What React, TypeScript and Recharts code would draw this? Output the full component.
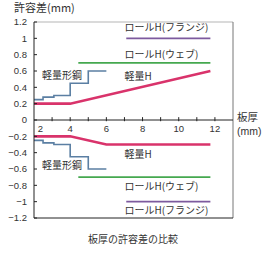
import { LineChart, Line, XAxis, YAxis, ReferenceLine, ReferenceDot } from 'recharts'

// y ticks (mm), x ticks (板厚 mm)
const yTicks = [1.2, 1, 0.8, 0.6, 0.4, 0.2, 0, -0.2, -0.4, -0.6, -0.8, -1, -1.2]
const xMinorTicks = [3, 4, 5, 6, 7, 8, 9, 10, 11, 12]
const xLabelTicks = [2, 4, 6, 8, 10, 12]

// 軽量H
const lightHUpper = [
  { x: 2, y: 0.2 },
  { x: 4, y: 0.2 },
  { x: 11.75, y: 0.6 },
]
const lightHLower = [
  { x: 2, y: -0.2 },
  { x: 4, y: -0.2 },
  { x: 6, y: -0.3 },
  { x: 11.75, y: -0.3 },
]
// 軽量形鋼 (step)
const formedUpper = [
  { x: 2, y: 0.25 },
  { x: 2.5, y: 0.28 },
  { x: 3.1, y: 0.3 },
  { x: 4, y: 0.45 },
  { x: 5, y: 0.6 },
  { x: 6, y: 0.6 },
]
const formedLower = [
  { x: 2, y: -0.25 },
  { x: 2.5, y: -0.28 },
  { x: 3.1, y: -0.3 },
  { x: 4, y: -0.45 },
  { x: 5, y: -0.6 },
  { x: 6, y: -0.6 },
]
// ロールH(ウェブ)
const webUpper = [
  { x: 4.45, y: 0.7 },
  { x: 11.75, y: 0.7 },
]
const webLower = [
  { x: 4.45, y: -0.7 },
  { x: 11.75, y: -0.7 },
]
// ロールH(フランジ)
const flangeUpper = [
  { x: 7.1, y: 1 },
  { x: 11.75, y: 1 },
]
const flangeLower = [
  { x: 7.1, y: -1 },
  { x: 11.75, y: -1 },
]

const notes = [
  { text: 'ロールH(フランジ)', x: 7, y: 1.14 },
  { text: 'ロールH(ウェブ)', x: 7, y: 0.82 },
  { text: '軽量H', x: 7, y: 0.545 },
  { text: '軽量形鋼', x: 2.44, y: 0.56 },
  { text: '軽量形鋼', x: 2.44, y: -0.54 },
  { text: '軽量H', x: 7, y: -0.41 },
  { text: 'ロールH(ウェブ)', x: 7, y: -0.8 },
  { text: 'ロールH(フランジ)', x: 7, y: -1.09 },
]

const RED = '#d9336b'
const BLUE = '#5b7fa3'
const GREEN = '#45a84f'
const PURPLE = '#7d5a9e'
const INK = '#333'
const JP = '"Noto Sans CJK JP", sans-serif'
const NUM = '"Liberation Sans", Arial, sans-serif'

const fmt = (v: number) => {
  const r = Number(v.toFixed(1))
  return r < 0 ? '\u2212' + Math.abs(r) : String(r)
}

const textLabel =
  (text: string, dx: number, dy: number, anchor: 'start' | 'middle' | 'end', family: string, size: number) =>
  (props: any) => {
    const vb = props.viewBox || {}
    return (
      <text
        x={vb.x + dx}
        y={vb.y + dy}
        textAnchor={anchor}
        dominantBaseline="central"
        fontFamily={family}
        fontSize={size}
        fill={INK}
      >
        {text}
      </text>
    )
  }

const abs = (left: number, top: number, size: number, extra: any = {}) => ({
  position: 'absolute' as const,
  left,
  top,
  fontSize: size,
  lineHeight: `${size + 3}px`,
  fontFamily: JP,
  color: INK,
  whiteSpace: 'nowrap' as const,
  ...extra,
})

export default function App() {
  return (
    <div style={{ position: 'absolute', left: 0, top: 0, width: 266, height: 259, background: '#fff' }}>
      <LineChart width={266} height={259} margin={{ top: 22, right: 33, bottom: 41, left: 0 }}>
        <XAxis type="number" dataKey="x" domain={[2, 13]} hide allowDuplicatedCategory={false} />
        <YAxis
          type="number"
          domain={[-1.2, 1.2]}
          ticks={yTicks}
          interval={0}
          width={34}
          tickSize={-3}
          tickMargin={10}
          tickFormatter={fmt}
          axisLine={{ stroke: '#222' }}
          tickLine={{ stroke: '#222' }}
          tick={{ fill: INK, fontSize: 9.5, fontFamily: NUM }}
        />
        {/* frame */}
        <ReferenceLine y={1.2} stroke="#b5b5b5" />
        <ReferenceLine x={13} stroke="#777" />
        <ReferenceLine y={-1.2} stroke="#222" />
        {/* zero axis */}
        <ReferenceLine y={0} stroke="#222" />
        {xMinorTicks.map((t) => (
          <ReferenceLine
            key={'t' + t}
            segment={[
              { x: t, y: -0.015 },
              { x: t, y: 0.035 },
            ]}
            stroke="#222"
          />
        ))}
        {xLabelTicks.map((t) => (
          <ReferenceDot
            key={'l' + t}
            x={t}
            y={0}
            r={0}
            fill="none"
            stroke="none"
            label={{ content: textLabel(String(t), t === 2 ? 6.5 : 0, 8.5, 'middle', NUM, 9.5) }}
          />
        ))}

        <Line data={flangeUpper} dataKey="y" stroke={PURPLE} strokeWidth={1.6} dot={false} isAnimationActive={false} />
        <Line data={flangeLower} dataKey="y" stroke={PURPLE} strokeWidth={1.6} dot={false} isAnimationActive={false} />
        <Line data={webUpper} dataKey="y" stroke={GREEN} strokeWidth={1.6} dot={false} isAnimationActive={false} />
        <Line data={webLower} dataKey="y" stroke={GREEN} strokeWidth={1.6} dot={false} isAnimationActive={false} />
        <Line data={formedUpper} dataKey="y" type="stepAfter" stroke={BLUE} strokeWidth={1.6} dot={false} isAnimationActive={false} />
        <Line data={formedLower} dataKey="y" type="stepAfter" stroke={BLUE} strokeWidth={1.6} dot={false} isAnimationActive={false} />
        <Line data={lightHUpper} dataKey="y" stroke={RED} strokeWidth={2.6} dot={false} isAnimationActive={false} />
        <Line data={lightHLower} dataKey="y" stroke={RED} strokeWidth={2.6} dot={false} isAnimationActive={false} />

        {notes.map((n, i) => (
          <ReferenceDot
            key={'n' + i}
            x={n.x}
            y={n.y}
            r={0}
            fill="none"
            stroke="none"
            label={{ content: textLabel(n.text, 0, 0, 'start', JP, 10) }}
          />
        ))}
      </LineChart>
      <div style={abs(14, 0, 11)}>許容差(mm)</div>
      <div style={abs(237, 110, 10.5)}>板厚</div>
      <div style={abs(237, 125, 10.5, { fontFamily: NUM })}>(mm)</div>
      <div style={abs(0, 232, 10, { width: 266, textAlign: 'center', left: 0 })}>板厚の許容差の比較</div>
    </div>
  )
}
